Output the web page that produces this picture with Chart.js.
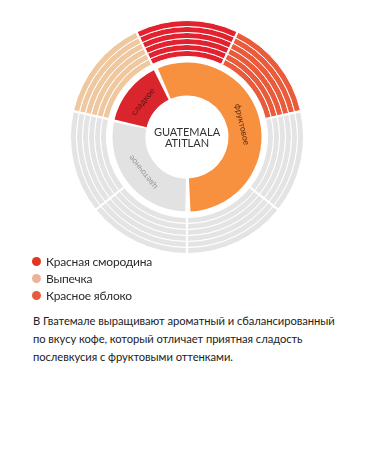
<!DOCTYPE html>
<html lang="ru">
<head>
  <meta charset="UTF-8">
  <title>Guatemala Atitlan</title>
  <script src="https://cdn.jsdelivr.net/npm/chart.js"></script>
  <style>
    body { margin: 0; background: #fff; font-family: Lato, "Open Sans", sans-serif; color: #2b2b2b; }
    #wheel { position: absolute; left: 57px; top: 7px; width: 260px; height: 260px; }
    #legend { position: absolute; left: 32px; top: 253px; margin: 0; padding: 0; list-style: none; }
    #legend li { height: 17px; line-height: 17px; font-size: 12px; letter-spacing: -0.2px; display: flex; align-items: center; }
    #legend span { width: 9px; height: 9px; border-radius: 50%; margin-right: 5px; flex: none; }
    #desc { position: absolute; left: 33px; top: 312px; width: 330px; margin: 0; font-size: 11.2px; line-height: 18px; color: #222; letter-spacing: -0.05px; }
  </style>
</head>
<body>
  <div id="wheel"><canvas id="flavorChart"></canvas></div>
  <ul id="legend"></ul>
  <p id="desc">В Гватемале выращивают ароматный и сбалансированный<br>по вкусу кофе, который отличает приятная сладость<br>послевкусия с фруктовыми оттенками.</p>

  <script>
    // outer ring: 7 equal sectors, starting at the top one and going clockwise
    const outerLabels = ['Красная смородина', 'Красное яблоко', '', '', '', '', 'Выпечка'];
    const outerValues = [1, 1, 1, 1, 1, 1, 1];
    const outerColors = ['#e3222f', '#ea5b3c', '#e4e4e4', '#e4e4e4', '#e4e4e4', '#e4e4e4', '#f0c8a0'];
    const stripeCount = 6;

    // inner ring: flavour groups
    const innerLabels = ['фруктовое', 'цветочное', 'сладкое'];
    const innerValues = [4, 2, 1];
    const innerColors = ['#f7913f', '#e2e2e2', '#d9252b'];
    const innerTextColors = ['#5b2a10', '#9a9a9a', '#5a1212'];

    const legendLabels = ['Красная смородина', 'Выпечка', 'Красное яблоко'];
    const legendColors = ['#e5341f', '#e9b596', '#ea5b3c'];

    const centerTitle = ['GUATEMALA', 'ATITLAN'];

    // legend list
    const legendEl = document.getElementById('legend');
    legendLabels.forEach(function(name, i) {
      const li = document.createElement('li');
      li.innerHTML = '<span style="background:' + legendColors[i] + '"></span>' + name;
      legendEl.appendChild(li);
    });

    const datasets = [];
    for (let i = 0; i < stripeCount; i++) {
      datasets.push({
        data: outerValues,
        backgroundColor: outerColors,
        borderColor: '#ffffff',
        borderWidth: 1,
        spacing: 3,
        weight: 1
      });
    }
    // empty ring between the two levels
    datasets.push({ data: outerValues, backgroundColor: 'rgba(0,0,0,0)', borderWidth: 0, weight: 1 });
    datasets.push({
      data: innerValues,
      backgroundColor: innerColors,
      borderColor: '#ffffff',
      borderWidth: 0,
      spacing: 3,
      weight: 5.5
    });

    const ringText = {
      id: 'ringText',
      afterDatasetsDraw(chart) {
        const ctx = chart.ctx;
        const meta = chart.getDatasetMeta(chart.data.datasets.length - 1);
        ctx.save();
        ctx.textAlign = 'center';
        ctx.textBaseline = 'middle';
        ctx.font = '8.5px Lato, sans-serif';
        meta.data.forEach(function(arc, i) {
          const mid = (arc.startAngle + arc.endAngle) / 2;
          const r = (arc.innerRadius + arc.outerRadius) / 2;
          ctx.save();
          ctx.translate(arc.x + Math.cos(mid) * r, arc.y + Math.sin(mid) * r);
          ctx.rotate(mid + Math.PI / 2);
          ctx.fillStyle = innerTextColors[i];
          ctx.fillText(innerLabels[i], 0, 0);
          ctx.restore();
        });
        const a = meta.data[0];
        ctx.fillStyle = '#333';
        ctx.font = '11px Lato, sans-serif';
        ctx.fillText(centerTitle[0], a.x, a.y - 5);
        ctx.fillText(centerTitle[1], a.x, a.y + 6);
        ctx.restore();
      }
    };

    new Chart(document.getElementById('flavorChart'), {
      type: 'doughnut',
      data: { labels: outerLabels, datasets: datasets },
      options: {
        responsive: true,
        maintainAspectRatio: false,
        animation: false,
        events: [],
        radius: 115,
        cutout: '34.8%',
        rotation: -180 / 7,
        plugins: { legend: { display: false }, tooltip: { enabled: false } }
      },
      plugins: [ringText]
    });
  </script>
</body>
</html>
